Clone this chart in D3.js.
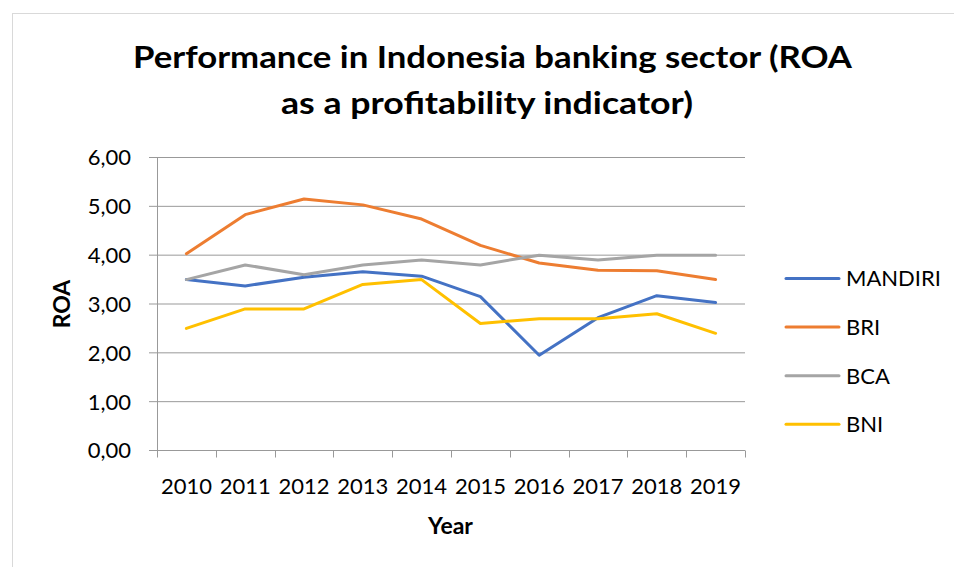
<!DOCTYPE html>
<html>
<head>
<meta charset="utf-8">
<script src="https://cdn.jsdelivr.net/npm/d3@7"></script>
<style>
  body { margin: 0; background: #fff; }
  svg { display: block; font-family: Lato, "Open Sans", sans-serif; }
</style>
</head>
<body>
<svg id="chart" width="954" height="567"></svg>
<script>
const years = ['2010', '2011', '2012', '2013', '2014', '2015', '2016', '2017', '2018', '2019']
const mandiri = [3.50, 3.37, 3.55, 3.66, 3.57, 3.15, 1.95, 2.72, 3.17, 3.03]
const bri = [4.03, 4.83, 5.15, 5.03, 4.74, 4.20, 3.84, 3.69, 3.68, 3.50]
const bca = [3.50, 3.80, 3.60, 3.80, 3.90, 3.80, 4.00, 3.90, 4.00, 4.00]
const bni = [2.50, 2.90, 2.90, 3.40, 3.50, 2.60, 2.70, 2.70, 2.80, 2.40]
const yTicks = [0, 1, 2, 3, 4, 5, 6]

const series = [
    { name: 'MANDIRI', values: mandiri, colour: '#4472C4' },
    { name: 'BRI', values: bri, colour: '#ED7D31' },
    { name: 'BCA', values: bca, colour: '#A5A5A5' },
    { name: 'BNI', values: bni, colour: '#FFC000' }
]

const svg = d3.select('#chart')
const plot = { left: 157, right: 745, top: 157.5, bottom: 450.5 }
const fmt = v => d3.format('.2f')(v).replace('.', ',')

// outer chart border (cut off at right / bottom like the original)
svg.append('rect')
    .attr('x', 12.5).attr('y', 13.5)
    .attr('width', 1000).attr('height', 600)
    .attr('fill', 'none').attr('stroke', '#d9d9d9')

const x = d3.scaleBand().domain(years).range([plot.left, plot.right]).padding(0)
const y = d3.scaleLinear().domain([0, 6]).range([plot.bottom, plot.top])

// gridlines + y tick marks
svg.append('g')
    .selectAll('line')
    .data(yTicks)
    .join('line')
    .attr('x1', plot.left - 8).attr('x2', plot.right)
    .attr('y1', d => y(d)).attr('y2', d => y(d))
    .attr('stroke', '#999').attr('stroke-width', 1)

// y axis line
svg.append('line')
    .attr('x1', plot.left + 0.5).attr('x2', plot.left + 0.5)
    .attr('y1', plot.top).attr('y2', plot.bottom)
    .attr('stroke', '#999')

// x tick marks at band boundaries
const boundaries = years.map(d => x(d)).concat([plot.right])
svg.append('g')
    .selectAll('line')
    .data(boundaries)
    .join('line')
    .attr('x1', d => Math.round(d) + 0.5).attr('x2', d => Math.round(d) + 0.5)
    .attr('y1', plot.bottom).attr('y2', plot.bottom + 7)
    .attr('stroke', '#999')

// y labels
svg.append('g')
    .selectAll('text')
    .data(yTicks)
    .join('text')
    .attr('x', 131).attr('y', d => y(d))
    .attr('dy', '0.36em')
    .attr('text-anchor', 'end')
    .attr('font-size', 22)
    .attr('fill', '#000')
    .text(d => fmt(d))

// x labels
svg.append('g')
    .selectAll('text')
    .data(years)
    .join('text')
    .attr('x', d => x(d) + x.bandwidth() / 2)
    .attr('y', 493.5)
    .attr('text-anchor', 'middle')
    .attr('font-size', 22)
    .attr('fill', '#000')
    .text(d => d)

// lines
const line = d3.line()
    .x((d, i) => x(years[i]) + x.bandwidth() / 2)
    .y(d => y(d))

svg.append('g')
    .selectAll('path')
    .data(series)
    .join('path')
    .attr('d', d => line(d.values))
    .attr('fill', 'none')
    .attr('stroke', d => d.colour)
    .attr('stroke-width', 3)
    .attr('stroke-linejoin', 'round')
    .attr('stroke-linecap', 'round')

// legend
const legend = svg.append('g')
    .selectAll('g')
    .data(series)
    .join('g')
    .attr('transform', (d, i) => `translate(786, ${278.5 + i * 48.6})`)

legend.append('line')
    .attr('x1', 0).attr('x2', 53)
    .attr('stroke', d => d.colour)
    .attr('stroke-width', 3)
    .attr('stroke-linecap', 'round')

legend.append('text')
    .attr('x', 60).attr('dy', '0.36em')
    .attr('font-size', 22)
    .attr('fill', '#000')
    .text(d => d.name)

// title
svg.append('text')
    .attr('x', 492.5).attr('y', 67.5)
    .attr('text-anchor', 'middle')
    .attr('font-size', 30)
    .attr('font-weight', 'bold')
    .attr('textLength', 719)
    .attr('lengthAdjust', 'spacingAndGlyphs')
    .text('Performance in Indonesia banking sector (ROA')

svg.append('text')
    .attr('x', 487).attr('y', 114)
    .attr('text-anchor', 'middle')
    .attr('font-size', 30)
    .attr('font-weight', 'bold')
    .attr('textLength', 412)
    .attr('lengthAdjust', 'spacingAndGlyphs')
    .text('as a profitability indicator)')

// axis titles
svg.append('text')
    .attr('x', 450.5).attr('y', 533.5)
    .attr('text-anchor', 'middle')
    .attr('font-size', 23)
    .attr('font-weight', 'bold')
    .text('Year')

svg.append('text')
    .attr('transform', 'translate(69.5, 304) rotate(-90)')
    .attr('text-anchor', 'middle')
    .attr('font-size', 23)
    .attr('font-weight', 'bold')
    .text('ROA')
</script>
</body>
</html>
